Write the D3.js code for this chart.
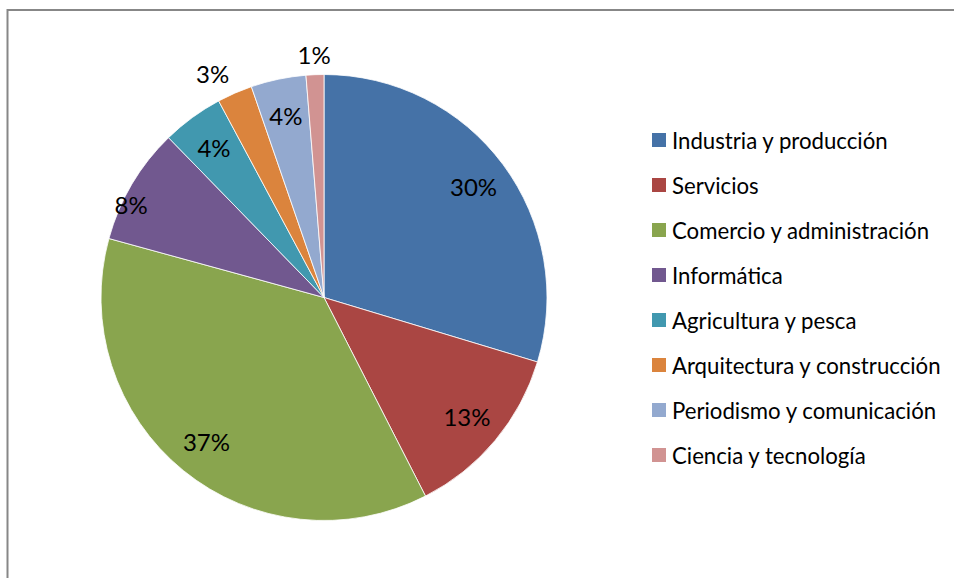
<!DOCTYPE html>
<html>
<head>
<meta charset="utf-8">
<script src="https://cdn.jsdelivr.net/npm/d3@7/dist/d3.min.js"></script>
<style>
  html, body { margin: 0; padding: 0; background: #ffffff; }
  svg { display: block; }
</style>
</head>
<body>
<script>
// ---- data ----
const categories = [
  "Industria y producción",
  "Servicios",
  "Comercio y administración",
  "Informática",
  "Agricultura y pesca",
  "Arquitectura y construcción",
  "Periodismo y comunicación",
  "Ciencia y tecnología"
];
const values = [29.67, 12.81, 36.78, 8.46, 4.45, 2.55, 3.99, 1.29];
const colors = ["#4572A7", "#AA4643", "#89A54E", "#71588F", "#4198AF", "#DB843D", "#93A9CF", "#D19392"];

// ---- layout ----
const W = 954, H = 578;
const cx = 324, cy = 297.5, R = 223;
const labelFont = "Lato, 'Open Sans', sans-serif";

const svg = d3.select("body").append("svg").attr("width", W).attr("height", H);

svg.append("rect")
  .attr("x", 7.5).attr("y", 10).attr("width", 960).attr("height", 600)
  .attr("fill", "#ffffff").attr("stroke", "#878787").attr("stroke-width", 2);

const total = d3.sum(values);
const pie = d3.pie().sort(null).value(d => d)(values);
const arc = d3.arc().innerRadius(0).outerRadius(R);

const g = svg.append("g").attr("transform", `translate(${cx},${cy})`);

g.selectAll("path.slice").data(pie).join("path")
  .attr("class", "slice")
  .attr("d", arc)
  .attr("fill", (d, i) => colors[i])
  .attr("stroke", "#ffffff")
  .attr("stroke-width", 0.8);

// label placement: inside for larger slices, outside for tiny ones
function labelPos(d, i) {
  const pct = d.value / total * 100;
  let a = (d.startAngle + d.endAngle) / 2;
  let r = R * 0.835;
  if (pct < 2.6) {
    r = R * (i === 7 ? 1.09 : 1.12);
    if (i === 5) a -= 0.05;
  } else if (i === 3) {
    r = R * 0.96;
    a -= 0.085;
  }
  return [r * Math.sin(a), -r * Math.cos(a)];
}

g.selectAll("text.lbl").data(pie).join("text")
  .attr("class", "lbl")
  .attr("transform", (d, i) => `translate(${labelPos(d, i)})`)
  .attr("text-anchor", "middle")
  .attr("dominant-baseline", "central")
  .attr("font-family", labelFont)
  .attr("font-size", 24)
  .attr("fill", "#000000")
  .text(d => Math.round(d.value / total * 100) + "%");

// ---- legend ----
const legend = svg.append("g").attr("transform", "translate(652,140)");
const rowH = 45;
const item = legend.selectAll("g.item").data(categories).join("g")
  .attr("class", "item")
  .attr("transform", (d, i) => `translate(0,${i * rowH})`);
item.append("rect")
  .attr("x", 0).attr("y", -7).attr("width", 14).attr("height", 14)
  .attr("fill", (d, i) => colors[i]);
item.append("text")
  .attr("x", 20).attr("y", 0)
  .attr("dominant-baseline", "central")
  .attr("font-family", labelFont)
  .attr("font-size", 22.2)
  .attr("fill", "#000000")
  .text(d => d);
</script>
</body>
</html>
